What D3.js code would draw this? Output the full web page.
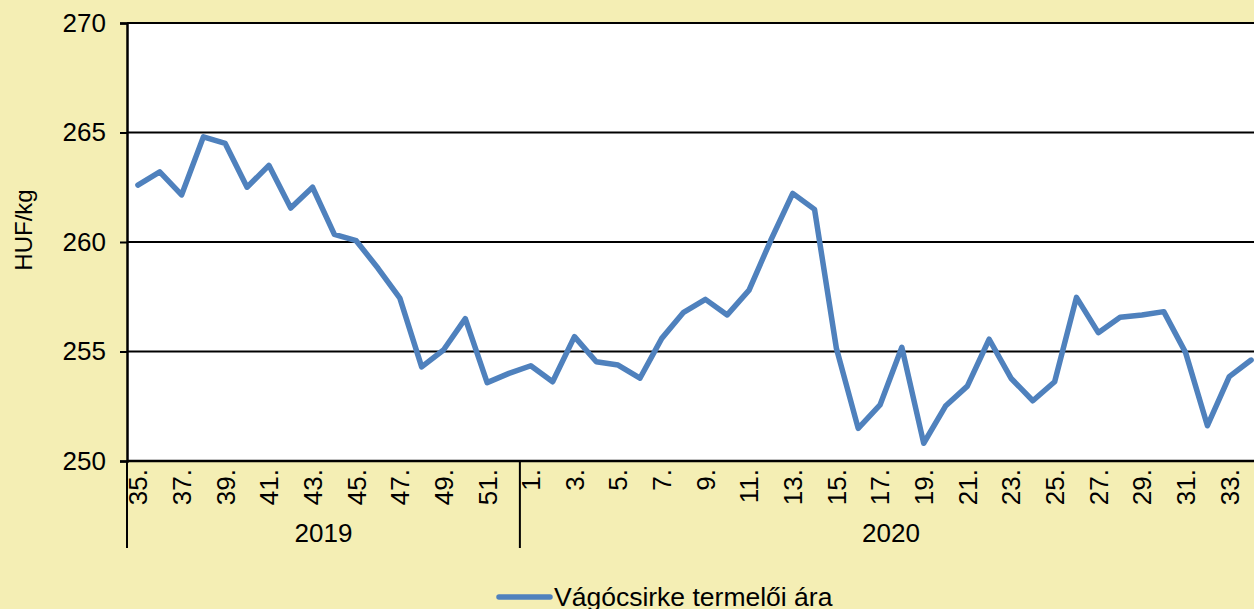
<!DOCTYPE html>
<html>
<head>
<meta charset="utf-8">
<script src="https://cdn.jsdelivr.net/npm/d3@7"></script>
<style>
  html, body { margin: 0; padding: 0; background: #F4EEB4; }
  svg { display: block; font-family: "Liberation Sans", Arial, sans-serif; }
</style>
</head>
<body>
<svg width="1254" height="609"></svg>
<script>
/* ------------------------- Data ------------------------- */
var weeks2019 = ['35.', '36.', '37.', '38.', '39.', '40.', '41.', '42.', '43.', '44.',
  '45.', '46.', '47.', '48.', '49.', '50.', '51.', '52.'];
var weeks2020 = ['1.', '2.', '3.', '4.', '5.', '6.', '7.', '8.', '9.', '10.',
  '11.', '12.', '13.', '14.', '15.', '16.', '17.', '18.', '19.', '20.',
  '21.', '22.', '23.', '24.', '25.', '26.', '27.', '28.', '29.', '30.',
  '31.', '32.', '33.', '34.'];
var prices2019 = [262.6, 263.2, 262.15, 264.8, 264.5, 262.5, 263.5, 261.55, 262.5, 260.35,
  260.06, 258.8, 257.44, 254.3, 255.07, 256.5, 253.58, 254.0];
var prices2020 = [254.35, 253.62, 255.68, 254.53, 254.38, 253.78, 255.6, 256.79, 257.38, 256.67,
  257.8, 260.09, 262.22, 261.49, 255.15, 251.49, 252.56, 255.19, 250.81, 252.51,
  253.42, 255.56, 253.78, 252.75, 253.62, 257.47, 255.86, 256.56, 256.67, 256.82,
  254.95, 251.61, 253.85, 254.61];
var years = ['2019', '2020'];
var yTicks = [250, 255, 260, 265, 270];
var seriesName = 'Vágócsirke termelői ára';

/* ------------------------- Setup ------------------------- */
var config = {
  left: 127,
  top: 23,
  bottom: 461,
  right: 1262,
  line_color: '#4F81BD',
  font_size: 26
};

// build the category table: one key per week, grouped by year
var rows = [];
weeks2019.forEach(function (w, i) { rows.push({ key: '2019-' + w, label: w, year: '2019', value: prices2019[i] }); });
weeks2020.forEach(function (w, i) { rows.push({ key: '2020-' + w, label: w, year: '2020', value: prices2020[i] }); });

var svg = d3.select('svg');

var xScale = d3.scaleBand()
  .domain(rows.map(function (d) { return d.key; }))
  .range([config.left, config.right])
  .padding(0);

var yScale = d3.scaleLinear()
  .domain([250, 270])
  .range([config.bottom, config.top]);

// plot area
svg.append('rect')
  .attr('x', config.left)
  .attr('y', config.top)
  .attr('width', config.right - config.left)
  .attr('height', config.bottom - config.top)
  .attr('fill', '#ffffff');

// gridlines
svg.append('g')
  .selectAll('line')
  .data(yTicks)
  .join('line')
  .attr('x1', config.left)
  .attr('x2', config.right)
  .attr('y1', function (d) { return yScale(d); })
  .attr('y2', function (d) { return yScale(d); })
  .attr('stroke', '#000')
  .attr('stroke-width', 2);

// y-axis
var yAxis = d3.axisLeft(yScale)
  .tickValues(yTicks)
  .tickSize(7)
  .tickPadding(14)
  .tickFormat(d3.format('d'));

var gy = svg.append('g')
  .attr('transform', 'translate(' + config.left + ',0)')
  .call(yAxis);
gy.select('.domain').attr('stroke', '#000').attr('stroke-width', 2.5);
gy.selectAll('.tick line').attr('stroke', '#000').attr('stroke-width', 2);
gy.selectAll('.tick text')
  .attr('font-size', config.font_size)
  .attr('font-family', '"Liberation Sans", Arial, sans-serif')
  .attr('fill', '#000');

// y-axis title
svg.append('text')
  .attr('transform', 'translate(32,230) rotate(-90)')
  .attr('text-anchor', 'middle')
  .attr('font-size', 24)
  .attr('fill', '#000')
  .text('HUF/kg');

// x-axis: week labels (every other week)
var xAxis = d3.axisBottom(xScale)
  .tickSize(0)
  .tickFormat(function (k) { return k.split('-')[1]; });

var gx = svg.append('g')
  .attr('transform', 'translate(0,' + config.bottom + ')')
  .call(xAxis);
gx.select('.domain').remove();
gx.selectAll('.tick')
  .filter(function (k, i) { return i % 2 === 1; })
  .remove();
gx.selectAll('.tick text')
  .attr('font-size', config.font_size)
  .attr('font-family', '"Liberation Sans", Arial, sans-serif')
  .attr('fill', '#000')
  .attr('text-anchor', 'end')
  .attr('transform', 'rotate(-90)')
  .attr('x', -8)
  .attr('y', 0)
  .attr('dy', '0.36em');

// x-axis line
svg.append('line')
  .attr('x1', config.left)
  .attr('x2', config.right)
  .attr('y1', config.bottom)
  .attr('y2', config.bottom)
  .attr('stroke', '#000')
  .attr('stroke-width', 2.5);

// year separators
var firstOf2020 = xScale('2020-' + weeks2020[0]);
[config.left, firstOf2020].forEach(function (x) {
  svg.append('line')
    .attr('x1', x).attr('x2', x)
    .attr('y1', config.bottom).attr('y2', 548)
    .attr('stroke', '#000')
    .attr('stroke-width', 2);
});

// year labels
svg.append('g')
  .selectAll('text')
  .data(years)
  .join('text')
  .attr('x', function (y) {
    var r = rows.filter(function (d) { return d.year === y; });
    return (xScale(r[0].key) + xScale(r[r.length - 1].key) + xScale.bandwidth()) / 2;
  })
  .attr('y', 542)
  .attr('text-anchor', 'middle')
  .attr('font-size', config.font_size)
  .attr('fill', '#000')
  .text(function (d) { return d; });

// price line
var line = d3.line()
  .x(function (d) { return xScale(d.key) + xScale.bandwidth() / 2; })
  .y(function (d) { return yScale(d.value); });

svg.append('path')
  .datum(rows)
  .attr('d', line)
  .attr('fill', 'none')
  .attr('stroke', config.line_color)
  .attr('stroke-width', 5.5)
  .attr('stroke-linejoin', 'round')
  .attr('stroke-linecap', 'round');

// legend
var legend = svg.append('g').attr('transform', 'translate(497,597)');
legend.append('line')
  .attr('x1', 2).attr('x2', 53)
  .attr('y1', 0).attr('y2', 0)
  .attr('stroke', config.line_color)
  .attr('stroke-width', 5.5)
  .attr('stroke-linecap', 'round');
legend.append('text')
  .attr('x', 57)
  .attr('y', 9)
  .attr('font-size', 26.5)
  .attr('fill', '#000')
  .text(seriesName);
</script>
</body>
</html>
